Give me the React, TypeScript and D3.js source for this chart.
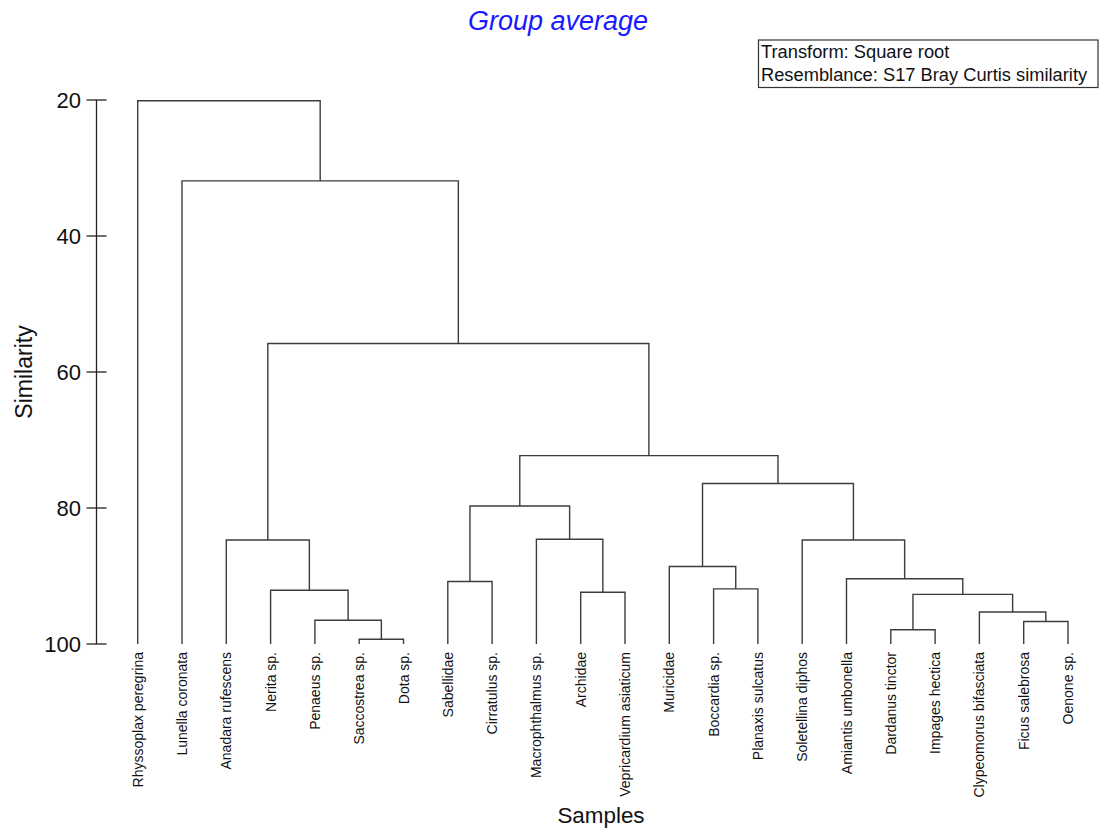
import React from 'react';
import * as d3 from 'd3';

// Samples in dendrogram order (left to right)
const leaves: string[] = [
  'Rhyssoplax peregrina',
  'Lunella coronata',
  'Anadara rufescens',
  'Nerita sp.',
  'Penaeus sp.',
  'Saccostrea sp.',
  'Dota sp.',
  'Sabellidae',
  'Cirratulus sp.',
  'Macrophthalmus sp.',
  'Archidae',
  'Vepricardium asiaticum',
  'Muricidae',
  'Boccardia sp.',
  'Planaxis sulcatus',
  'Soletellina diphos',
  'Amiantis umbonella',
  'Dardanus tinctor',
  'Impages hectica',
  'Clypeomorus bifasciata',
  'Ficus salebrosa',
  'Oenone sp.',
];

// Merge steps: numbers are leaf indices, 'cN' refers to merge N (0-based)
type Ref = number | string;
const mergeLeft: Ref[] = [5, 4, 3, 2, 7, 10, 9, 'c4', 13, 12, 20, 19, 17, 'c12', 16, 15, 'c9', 'c7', 'c3', 1, 0];
const mergeRight: Ref[] = [6, 'c0', 'c1', 'c2', 8, 11, 'c5', 'c6', 14, 'c8', 21, 'c10', 18, 'c11', 'c13', 'c14', 'c15', 'c16', 'c17', 'c18', 'c19'];
const mergeSimilarity: number[] = [
  99.3, 96.5, 92.1, 84.7, 90.8, 92.4, 84.6, 79.7, 91.9, 88.6, 96.7,
  95.3, 97.9, 92.7, 90.4, 84.7, 76.4, 72.3, 55.8, 31.9, 20.1,
];

const yTicks: number[] = [20, 40, 60, 80, 100];

const W = 1112;
const H = 831;
const FONT = '"Liberation Sans", Arial, sans-serif';
const LINE = '#3c3c3c';

const App: React.FC = () => {
  const x = d3.scalePoint<string>().domain(leaves).range([137.7, 1068]);
  const y = d3.scaleLinear().domain([20, 100]).range([100, 644]);

  // positions of each merged cluster
  const nodeX: number[] = [];
  const nodeY: number[] = [];
  const pos = (r: Ref): [number, number] => {
    if (typeof r === 'string') {
      const k = +r.slice(1);
      return [nodeX[k], nodeY[k]];
    }
    return [x(leaves[r]) as number, y(100)];
  };

  const paths: string[] = [];
  mergeSimilarity.forEach((s, k) => {
    const [x1, y1] = pos(mergeLeft[k]);
    const [x2, y2] = pos(mergeRight[k]);
    const yy = y(s);
    const p = d3.path();
    p.moveTo(x1, y1);
    p.lineTo(x1, yy);
    p.lineTo(x2, yy);
    p.lineTo(x2, y2);
    paths.push(p.toString());
    nodeX[k] = (x1 + x2) / 2;
    nodeY[k] = yy;
  });

  const axisX = 96.5;

  return (
    <svg width={W} height={H} style={{ position: 'absolute', left: 0, top: 0, background: '#fff' }} fontFamily={FONT}>
      <text x={558} y={30} textAnchor="middle" fontSize={27} fontStyle="italic" fill="#1a1aff">
        Group average
      </text>

      <rect x={758.5} y={40} width={339.5} height={47.5} fill="none" stroke="#333" strokeWidth={1.2} />
      <text x={761} y={58} fontSize={18.3} fill="#111">Transform: Square root</text>
      <text x={761} y={81} fontSize={18.3} fill="#111">Resemblance: S17 Bray Curtis similarity</text>

      {/* y axis */}
      <line x1={axisX} x2={axisX} y1={y(20)} y2={y(100)} stroke="#222" strokeWidth={1.3} />
      {yTicks.map(t => (
        <g key={t}>
          <line x1={axisX - 10} x2={axisX + 10} y1={y(t)} y2={y(t)} stroke="#222" strokeWidth={1.3} />
          <text x={81} y={y(t) + 8} textAnchor="end" fontSize={22} fill="#111">{t}</text>
        </g>
      ))}
      <text transform={`translate(32,372) rotate(-90)`} textAnchor="middle" fontSize={23} fill="#111">
        Similarity
      </text>

      {/* dendrogram */}
      {paths.map((d, i) => (
        <path key={i} d={d} fill="none" stroke={LINE} strokeWidth={1.4} />
      ))}

      {leaves.map(l => (
        <text
          key={l}
          transform={`translate(${(x(l) as number) + 5},652) rotate(-90)`}
          textAnchor="end"
          fontSize={14}
          fill="#111"
        >
          {l}
        </text>
      ))}

      <text x={601} y={823} textAnchor="middle" fontSize={22.4} fill="#111">Samples</text>
    </svg>
  );
};

export default App;
